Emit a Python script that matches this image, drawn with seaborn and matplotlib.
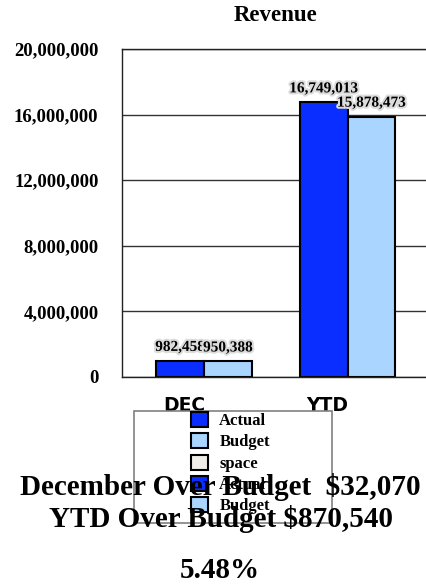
import matplotlib
matplotlib.use("Agg")
import matplotlib.pyplot as plt
import matplotlib.patheffects as pe
from matplotlib.patches import Patch, Rectangle
from matplotlib.transforms import ScaledTranslation
import seaborn as sns
import pandas as pd

# data
periods = ["DEC", "YTD"]
actual = [982458, 16749013]
budget = [950388, 15878473]
series_names = ["Actual", "Budget"]
legend_labels = ["Actual", "Budget", "space", "Actual", "Budget"]
summary_lines = ["December Over Budget  $32,070", "YTD Over Budget $870,540", "5.48%"]

c_actual = "#0a2eff"
c_budget = "#a9d5ff"
c_space = "#efefe8"
legend_colors = [c_actual, c_budget, c_space, c_actual, c_budget]

df = pd.DataFrame({
    "period": periods * 2,
    "amount": actual + budget,
    "series": [series_names[0]] * 2 + [series_names[1]] * 2,
})

sns.set_style("white")
plt.rcParams["font.family"] = ["Liberation Serif", "DejaVu Serif"]
plt.rcParams["font.weight"] = "bold"
plt.rcParams["text.color"] = "black"
plt.rcParams["xtick.color"] = "black"
plt.rcParams["ytick.color"] = "black"

fig = plt.figure(figsize=(4.27, 5.86), dpi=100)
ax = fig.add_axes([0.2857, 0.3567, 0.72, 0.5597])

sns.barplot(data=df, x="period", y="amount", hue="series", palette=[c_actual, c_budget],
            saturation=1, width=0.665, edgecolor="black", linewidth=1.5, errorbar=None,
            legend=False, ax=ax)

for cont, vals in zip(ax.containers, [actual, budget]):
    ax.bar_label(cont, labels=[f"{v:,}" for v in vals], padding=5, fontsize=11, color="black",
                 fontweight="bold", path_effects=[pe.withStroke(linewidth=3, foreground="#dcdcdc")])

ax.set_xlim(-0.57, 1.57)
ax.set_ylim(0, 20000000)
ax.set_yticks(range(0, 20000001, 4000000))
ax.set_yticklabels([f"{v:,}" for v in range(0, 20000001, 4000000)], fontsize=13.5, fontweight="bold")
ax.tick_params(axis="y", length=0, pad=17)
ax.tick_params(axis="x", length=0, pad=14)
ax.set_xticks(range(len(periods)))
ax.set_xticklabels(periods, family="DejaVu Sans", fontsize=13.5, fontweight="bold")
for lbl in ax.get_xticklabels():
    lbl.set_transform(lbl.get_transform() + ScaledTranslation(-20 / 100, 0, fig.dpi_scale_trans))
ax.set_xlabel("")
ax.set_ylabel("")
ax.yaxis.grid(True, color="#333333", linewidth=1)
ax.set_axisbelow(True)
for s in ["left", "top", "bottom"]:
    ax.spines[s].set_color("#222222")
    ax.spines[s].set_linewidth(1)
ax.spines["right"].set_visible(False)
ax.set_title("Revenue", fontsize=16.5, fontweight="bold", pad=20, color="black")

# legend frame and entries
fig.patches.append(Rectangle((134 / 427, 1 - 523 / 586), 198 / 427, 112 / 586, transform=fig.transFigure,
                             facecolor="white", edgecolor="#808080", linewidth=1.2, zorder=1))
handles = [Patch(facecolor=c, edgecolor="black", linewidth=1.5) for c in legend_colors]
leg = fig.legend(handles, legend_labels, loc="upper left", bbox_to_anchor=(191 / 427, 1 - 412 / 586),
                 frameon=False, fontsize=12, handlelength=1.0, handleheight=1.0, handletextpad=0.7,
                 labelspacing=0.25, borderpad=0, borderaxespad=0)
leg.set_zorder(2)
for t in leg.get_texts():
    t.set_fontweight("bold")
    t.set_color("black")

fig.text(220 / 427, 1 - 487 / 586, summary_lines[0], ha="center", va="center", fontsize=21, fontweight="bold", zorder=3)
fig.text(221 / 427, 1 - 519 / 586, summary_lines[1], ha="center", va="center", fontsize=21, fontweight="bold", zorder=3)
fig.text(220 / 427, 1 - 570 / 586, summary_lines[2], ha="center", va="center", fontsize=21, fontweight="bold", zorder=3)

fig.savefig("out.png", dpi=100)
